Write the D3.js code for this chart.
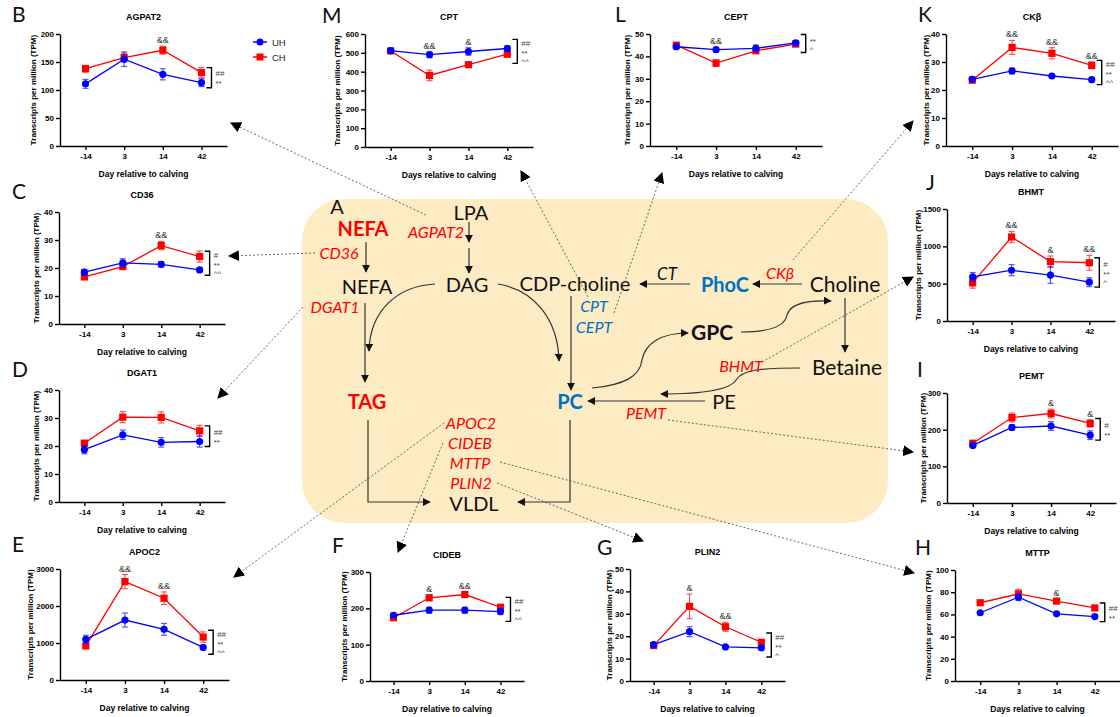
<!DOCTYPE html>
<html>
<head>
<meta charset="utf-8">
<script src="https://cdn.jsdelivr.net/npm/d3@7"></script>
<style>
	body { margin: 0; background: #fff; }
	#chart { width: 1120px; height: 717px; }
	.axis path, .axis line { stroke: #000; stroke-width: 1.4; }
	.axis text { font-family: "Liberation Sans", Arial, sans-serif; font-weight: bold; font-size: 8px; fill: #000; }
</style>
</head>
<body>
<div id="chart"></div>
<script>
// days of sampling relative to calving
var days = ["-14", "3", "14", "42"];

// mean and SEM per gene, UH = blue, CH = red
var agpat2UH = [111, 155, 128, 113], agpat2UHse = [8, 13, 10, 7];
var agpat2CH = [138, 158, 171, 131], agpat2CHse = [6, 8, 7, 9];
var agpat2Sig = ["", "", "&&", ""], agpat2Eff = ["##", "**"];

var cd36UH = [18.5, 21.8, 21.3, 19.3], cd36UHse = [1, 1.5, 1, 0.8];
var cd36CH = [16.8, 20.5, 28, 24.1], cd36CHse = [0.8, 0.8, 1.5, 2];
var cd36Sig = ["", "", "&&", ""], cd36Eff = ["#", "**", "^^"];

var dgat1UH = [18.7, 24, 21.3, 21.6], dgat1UHse = [1.5, 1.7, 1.7, 2];
var dgat1CH = [21, 30.3, 30.2, 25.4], dgat1CHse = [1, 2, 2, 2];
var dgat1Sig = ["", "", "", ""], dgat1Eff = ["##", "**"];

var apoc2UH = [1100, 1620, 1370, 880], apoc2UHse = [110, 190, 160, 40];
var apoc2CH = [920, 2660, 2210, 1160], apoc2CHse = [70, 190, 170, 140];
var apoc2Sig = ["", "&&", "&&", ""], apoc2Eff = ["##", "**", "^^"];

var cptUH = [512, 490, 507, 523], cptUHse = [10, 15, 20, 15];
var cptCH = [510, 380, 437, 493], cptCHse = [12, 28, 12, 18];
var cptSig = ["", "&&", "&", ""], cptEff = ["##", "**", "^^"];

var ceptUH = [44.3, 43, 43.6, 46], ceptUHse = [1, 1, 1.5, 1];
var ceptCH = [45, 37, 42.5, 45.5], ceptCHse = [1, 1.5, 1, 1];
var ceptSig = ["", "&&", "", ""], ceptEff = ["**", "^"];

var ckbUH = [23.8, 26.8, 25, 23.7], ckbUHse = [0.8, 1, 0.5, 0.5];
var ckbCH = [23.5, 35.2, 33.1, 28.8], ckbCHse = [0.8, 2.5, 2, 1.2];
var ckbSig = ["", "&&", "&&", "&&"], ckbEff = ["##", "**", "^^"];

var bhmtUH = [590, 680, 615, 520], bhmtUHse = [60, 75, 110, 60];
var bhmtCH = [510, 1125, 795, 780], bhmtCHse = [70, 75, 75, 100];
var bhmtSig = ["", "&&", "&", "&&"], bhmtEff = ["#", "**", "^"];

var pemtUH = [157, 206, 210, 185], pemtUHse = [5, 7, 12, 12];
var pemtCH = [163, 233, 244, 217], pemtCHse = [5, 12, 12, 10];
var pemtSig = ["", "", "&", "&"], pemtEff = ["#", "**"];

var mttpUH = [61.5, 75.5, 60.5, 58], mttpUHse = [1, 3, 1, 1];
var mttpCH = [70.5, 78.5, 72, 65.8], mttpCHse = [1, 4, 2, 1];
var mttpSig = ["", "", "&", ""], mttpEff = ["##", "**"];

var cidebUH = [181, 195, 195, 191], cidebUHse = [6, 8, 8, 8];
var cidebCH = [174, 229, 238, 203], cidebCHse = [5, 8, 8, 5];
var cidebSig = ["", "&", "&&", ""], cidebEff = ["##", "**", "^^"];

var plin2UH = [16.2, 22, 15.2, 14.8], plin2UHse = [1, 2.2, 0.5, 1];
var plin2CH = [15.8, 33.3, 24.2, 17.3], plin2CHse = [1, 5.5, 2, 0.8];
var plin2Sig = ["", "&", "&&", ""], plin2Eff = ["##", "**", "^"];

function init(){
	var w = 1120;
	var h = 717;
	var blue = "#0000ff", red = "#ff0000";

	var svg = d3.select("#chart")
				.append("svg")
				.attr("width", w)
				.attr("height", h);

	var defs = svg.append("defs");
	defs.append("marker")
		.attr("id", "ah")
		.attr("viewBox", "0 0 10 10")
		.attr("refX", 9).attr("refY", 5)
		.attr("markerWidth", 8).attr("markerHeight", 8)
		.attr("markerUnits", "userSpaceOnUse")
		.attr("orient", "auto")
		.append("path").attr("d", "M0,0L10,5L0,10z").attr("fill", "#111");
	defs.append("marker")
		.attr("id", "ahd")
		.attr("viewBox", "0 0 10 10")
		.attr("refX", 9).attr("refY", 5)
		.attr("markerWidth", 11).attr("markerHeight", 11)
		.attr("markerUnits", "userSpaceOnUse")
		.attr("orient", "auto")
		.append("path").attr("d", "M0,0L10,5L0,10z").attr("fill", "#000");

	//---------- centre pathway diagram ----------
	var dia = svg.append("g");
	dia.append("rect")
		.attr("x", 302).attr("y", 199)
		.attr("width", 586).attr("height", 324)
		.attr("rx", 42)
		.attr("fill", "#fdebc4");

	var arrows = [
		"M366,242L366,272",
		"M469,222L469,242",
		"M469,248L469,273",
		"M365,303L365,382",
		"M435,284C398,286 370,310 369,351",
		"M498,284C535,290 558,320 559,361",
		"M571,296L571,390",
		"M690,284L640,284",
		"M802,284L753,284",
		"M845,298L845,352",
		"M741,332C770,332 785,326 787,315C790,303 810,300 831,301",
		"M592,388C625,385 640,376 642,360C645,344 660,333 688,333",
		"M800,368C760,368 742,370 736,380C730,390 700,394 661,394",
		"M705,401L588,401",
		"M368,420L368,502L430,502",
		"M570,420L570,502L518,502"
	];
	dia.selectAll("path.flow")
		.data(arrows)
		.enter()
		.append("path")
		.attr("class", "flow")
		.attr("d", function(d){ return d; })
		.attr("fill", "none")
		.attr("stroke", "#333")
		.attr("stroke-width", 1.2)
		.attr("marker-end", "url(#ah)");

	// [text, x, y, size, weight, style, colour]
	var labels = [
		["A", 337, 207, 20, "normal", "normal", "#111"],
		["NEFA", 363, 229, 20, "bold", "normal", red],
		["LPA", 471, 213, 20, "normal", "normal", "#111"],
		["AGPAT2", 436, 232, 16, "normal", "italic", red],
		["CD36", 339, 253, 16, "normal", "italic", red],
		["NEFA", 367, 287, 20, "normal", "normal", "#111"],
		["DAG", 467, 285, 20, "normal", "normal", "#111"],
		["CDP-choline", 575, 284, 20, "normal", "normal", "#111"],
		["CT", 667, 274, 17, "normal", "italic", "#111"],
		["PhoC", 725, 285, 20, "bold", "normal", "#0070c0"],
		["CKβ", 780, 273, 16, "normal", "italic", red],
		["Choline", 845, 285, 21, "normal", "normal", "#111"],
		["DGAT1", 335, 307, 16, "normal", "italic", red],
		["CPT", 594, 306, 16, "normal", "italic", "#0070c0"],
		["CEPT", 594, 327, 16, "normal", "italic", "#0070c0"],
		["GPC", 712, 333, 21, "bold", "normal", "#111"],
		["Betaine", 847, 368, 21, "normal", "normal", "#111"],
		["BHMT", 741, 366, 16, "normal", "italic", red],
		["TAG", 367, 402, 20, "bold", "normal", red],
		["PC", 570, 402, 20, "bold", "normal", "#0070c0"],
		["PE", 724, 402, 20, "normal", "normal", "#111"],
		["PEMT", 646, 413, 16, "normal", "italic", red],
		["APOC2", 471, 423, 16, "normal", "italic", red],
		["CIDEB", 470, 443, 16, "normal", "italic", red],
		["MTTP", 470, 463, 16, "normal", "italic", red],
		["PLIN2", 471, 483, 16, "normal", "italic", red],
		["VLDL", 474, 504, 20, "normal", "normal", "#111"]
	];
	dia.selectAll("text")
		.data(labels)
		.enter()
		.append("text")
		.text(function(d){ return d[0]; })
		.attr("x", function(d){ return d[1]; })
		.attr("y", function(d){ return d[2]; })
		.attr("dy", "0.35em")
		.attr("text-anchor", "middle")
		.style("font-family", "Lato, 'Open Sans', sans-serif")
		.style("font-size", function(d){ return d[3] + "px"; })
		.style("font-weight", function(d){ return d[4]; })
		.style("font-style", function(d){ return d[5]; })
		.attr("fill", function(d){ return d[6]; });

	// dashed links gene -> panel
	var links = [
		[426, 215, 231, 123],
		[315, 253, 229, 256],
		[303, 307, 218, 398],
		[444, 423, 234, 577],
		[443, 443, 398, 552],
		[500, 462, 914, 573],
		[497, 483, 643, 541],
		[668, 420, 913, 452],
		[762, 362, 913, 277],
		[793, 260, 913, 121],
		[588, 297, 521, 171],
		[614, 313, 662, 173]
	];
	svg.selectAll("line.link")
		.data(links)
		.enter()
		.append("line")
		.attr("class", "link")
		.attr("x1", function(d){ return d[0]; })
		.attr("y1", function(d){ return d[1]; })
		.attr("x2", function(d){ return d[2]; })
		.attr("y2", function(d){ return d[3]; })
		.attr("stroke", "#444")
		.attr("stroke-width", 0.8)
		.attr("stroke-dasharray", "2,2")
		.attr("marker-end", "url(#ahd)");

	//---------- line charts ----------
	var panels = [
		{id:"B", gene:"AGPAT2", uh:agpat2UH, uhSe:agpat2UHse, ch:agpat2CH, chSe:agpat2CHse, sig:agpat2Sig, eff:agpat2Eff,
			max:200, step:50, x0:60, x1:227, yT:34, yB:146, lx:12, ly:22, yl:-27, xt:"Day relative to calving"},
		{id:"C", gene:"CD36", uh:cd36UH, uhSe:cd36UHse, ch:cd36CH, chSe:cd36CHse, sig:cd36Sig, eff:cd36Eff,
			max:40, step:10, x0:59, x1:225, yT:212, yB:324, lx:12, ly:199, yl:-23, xt:"Day relative to calving"},
		{id:"D", gene:"DGAT1", uh:dgat1UH, uhSe:dgat1UHse, ch:dgat1CH, chSe:dgat1CHse, sig:dgat1Sig, eff:dgat1Eff,
			max:40, step:10, x0:59, x1:225, yT:390, yB:502, lx:12, ly:377, yl:-23, xt:"Day relative to calving"},
		{id:"E", gene:"APOC2", uh:apoc2UH, uhSe:apoc2UHse, ch:apoc2CH, chSe:apoc2CHse, sig:apoc2Sig, eff:apoc2Eff,
			max:3000, step:1000, x0:60, x1:229, yT:569, yB:680, lx:12, ly:552, yl:-30, xt:"Day relative to calving"},
		{id:"M", gene:"CPT", uh:cptUH, uhSe:cptUHse, ch:cptCH, chSe:cptCHse, sig:cptSig, eff:cptEff,
			max:600, step:100, x0:365, x1:533, yT:34, yB:147, lx:322, ly:23, yl:-28, xt:"Days relative to calving"},
		{id:"L", gene:"CEPT", uh:ceptUH, uhSe:ceptUHse, ch:ceptCH, chSe:ceptCHse, sig:ceptSig, eff:ceptEff,
			max:50, step:10, x0:650, x1:822, yT:34, yB:146, lx:615, ly:22, yl:-23, xt:"Days relative to calving"},
		{id:"K", gene:"CKβ", uh:ckbUH, uhSe:ckbUHse, ch:ckbCH, chSe:ckbCHse, sig:ckbSig, eff:ckbEff,
			max:40, step:10, x0:946, x1:1118, yT:34, yB:146, lx:918, ly:22, yl:-20, xt:"Days relative to calving"},
		{id:"J", gene:"BHMT", uh:bhmtUH, uhSe:bhmtUHse, ch:bhmtCH, chSe:bhmtCHse, sig:bhmtSig, eff:bhmtEff,
			max:1500, step:500, x0:947, x1:1115, yT:209, yB:321, lx:926, ly:190, yl:-29, xt:"Days relative to calving"},
		{id:"I", gene:"PEMT", uh:pemtUH, uhSe:pemtUHse, ch:pemtCH, chSe:pemtCHse, sig:pemtSig, eff:pemtEff,
			max:300, step:100, x0:947, x1:1116, yT:393, yB:503, lx:917, ly:377, yl:-24, xt:"Days relative to calving"},
		{id:"H", gene:"MTTP", uh:mttpUH, uhSe:mttpUHse, ch:mttpCH, chSe:mttpCHse, sig:mttpSig, eff:mttpEff,
			max:100, step:20, x0:955, x1:1120, yT:570, yB:681, lx:915, ly:555, yl:-27, xt:"Days relative to calving"},
		{id:"F", gene:"CIDEB", uh:cidebUH, uhSe:cidebUHse, ch:cidebCH, chSe:cidebCHse, sig:cidebSig, eff:cidebEff,
			max:300, step:100, x0:370, x1:524, yT:572, yB:681, lx:332, ly:553, yl:-26, xt:"Day relative to calving"},
		{id:"G", gene:"PLIN2", uh:plin2UH, uhSe:plin2UHse, ch:plin2CH, chSe:plin2CHse, sig:plin2Sig, eff:plin2Eff,
			max:50, step:10, x0:630, x1:785, yT:569, yB:681, lx:597, ly:555, yl:-21, xt:"Days relative to calving"}
	];

	var chartFont = "'Liberation Sans', Arial, sans-serif";

	panels.forEach(function(p){
		var g = svg.append("g");
		var x = d3.scalePoint().domain(days).range([p.x0, p.x1]).padding(0.66);
		var y = d3.scaleLinear().domain([0, p.max]).range([p.yB, p.yT]);

		g.append("g")
			.attr("class", "axis")
			.attr("transform", "translate(" + p.x0 + ",0)")
			.call(d3.axisLeft(y)
				.tickValues(d3.range(0, p.max + p.step / 2, p.step))
				.tickFormat(d3.format("d"))
				.tickSize(4).tickSizeOuter(0).tickPadding(2));
		g.append("g")
			.attr("class", "axis")
			.attr("transform", "translate(0," + p.yB + ")")
			.call(d3.axisBottom(x).tickSize(4).tickSizeOuter(0).tickPadding(3));

		// panel letter, gene title, axis titles
		g.append("text").text(p.id)
			.attr("x", p.lx).attr("y", p.ly)
			.style("font-family", "Lato, sans-serif").style("font-size", "21px")
			.attr("fill", "#111");
		g.append("text").text(p.gene)
			.attr("x", (p.x0 + p.x1) / 2).attr("y", p.yT - 14)
			.attr("text-anchor", "middle")
			.style("font-family", chartFont).style("font-weight", "bold").style("font-size", "9px");
		g.append("text").text(p.xt)
			.attr("x", (p.x0 + p.x1) / 2).attr("y", p.yB + 31)
			.attr("text-anchor", "middle")
			.style("font-family", chartFont).style("font-weight", "bold").style("font-size", "8.5px");
		g.append("text").text("Transcripts per million (TPM)")
			.attr("transform", "translate(" + (p.x0 + p.yl) + "," + ((p.yT + p.yB) / 2) + ") rotate(-90)")
			.attr("text-anchor", "middle")
			.attr("dy", "0.35em")
			.style("font-family", chartFont).style("font-weight", "bold").style("font-size", "8px");

		var series = [
			{v:p.ch, se:p.chSe, col:red, sq:true},
			{v:p.uh, se:p.uhSe, col:blue, sq:false}
		];
		var line = d3.line()
			.x(function(d, i){ return x(days[i]); })
			.y(function(d){ return y(d); });

		series.forEach(function(s){
			g.append("path")
				.attr("d", line(s.v))
				.attr("fill", "none")
				.attr("stroke", s.col)
				.attr("stroke-width", 1.3);
			var eb = g.append("g").attr("stroke", s.col).attr("stroke-width", 1.1).attr("opacity", 0.7);
			s.v.forEach(function(v, i){
				var cx = x(days[i]);
				var lo = y(v - s.se[i]), hi = y(v + s.se[i]);
				eb.append("line").attr("x1", cx).attr("x2", cx).attr("y1", lo).attr("y2", hi);
				eb.append("line").attr("x1", cx - 3).attr("x2", cx + 3).attr("y1", lo).attr("y2", lo);
				eb.append("line").attr("x1", cx - 3).attr("x2", cx + 3).attr("y1", hi).attr("y2", hi);
			});
			if (s.sq) {
				g.selectAll(null)
					.data(s.v)
					.enter()
					.append("rect")
					.attr("x", function(d, i){ return x(days[i]) - 3.6; })
					.attr("y", function(d){ return y(d) - 3.6; })
					.attr("width", 7.2).attr("height", 7.2)
					.attr("fill", s.col);
			} else {
				g.selectAll(null)
					.data(s.v)
					.enter()
					.append("circle")
					.attr("cx", function(d, i){ return x(days[i]); })
					.attr("cy", function(d){ return y(d); })
					.attr("r", 3.6)
					.attr("fill", s.col);
			}
		});

		// time point significance
		p.sig.forEach(function(t, i){
			if (!t) return;
			var top = Math.max(p.uh[i] + p.uhSe[i], p.ch[i] + p.chSe[i]);
			g.append("text").text(t)
				.attr("x", x(days[i])).attr("y", y(top) - 3)
				.attr("text-anchor", "middle")
				.style("font-family", chartFont).style("font-size", "9px")
				.attr("fill", "#333");
		});

		// treatment/time bracket at the last point
		var ya = y(p.ch[3]), yb = y(p.uh[3]);
		var top = Math.min(ya, yb) - 5, bot = Math.max(ya, yb) + 5;
		var need = 6 + p.eff.length * 6;
		if (bot - top < need) {
			var mid = (top + bot) / 2;
			top = mid - need / 2; bot = mid + need / 2;
		}
		var bx = x(days[3]) + 10;
		g.append("path")
			.attr("d", "M" + (bx - 5) + "," + top + "H" + bx + "V" + bot + "H" + (bx - 5))
			.attr("fill", "none")
			.attr("stroke", "#000")
			.attr("stroke-width", 1.4);
		var cmid = (top + bot) / 2;
		p.eff.forEach(function(t, i){
			// * and ^ glyphs sit high, nudge them down
			var nudge = t.charAt(0) == "#" ? 0 : 2;
			g.append("text").text(t)
				.attr("x", bx + 4)
				.attr("y", cmid + (i - (p.eff.length - 1) / 2) * 8 + nudge)
				.attr("dy", "0.35em")
				.style("font-family", chartFont).style("font-size", "8px")
				.attr("fill", "#444");
		});
	});

	// legend
	var legend = svg.append("g");
	var leg = [
		{name:"UH", col:blue, sq:false, y:42},
		{name:"CH", col:red, sq:true, y:57}
	];
	leg.forEach(function(d){
		legend.append("line")
			.attr("x1", 253).attr("x2", 267)
			.attr("y1", d.y).attr("y2", d.y)
			.attr("stroke", d.col).attr("stroke-width", 1.5);
		if (d.sq) {
			legend.append("rect").attr("x", 256.5).attr("y", d.y - 3.5).attr("width", 7).attr("height", 7).attr("fill", d.col);
		} else {
			legend.append("circle").attr("cx", 260).attr("cy", d.y).attr("r", 3.5).attr("fill", d.col);
		}
		legend.append("text").text(d.name)
			.attr("x", 272).attr("y", d.y + 3.5)
			.style("font-family", chartFont).style("font-size", "9.5px")
			.attr("fill", "#222");
	});
}

window.onload = init;
</script>
</body>
</html>
